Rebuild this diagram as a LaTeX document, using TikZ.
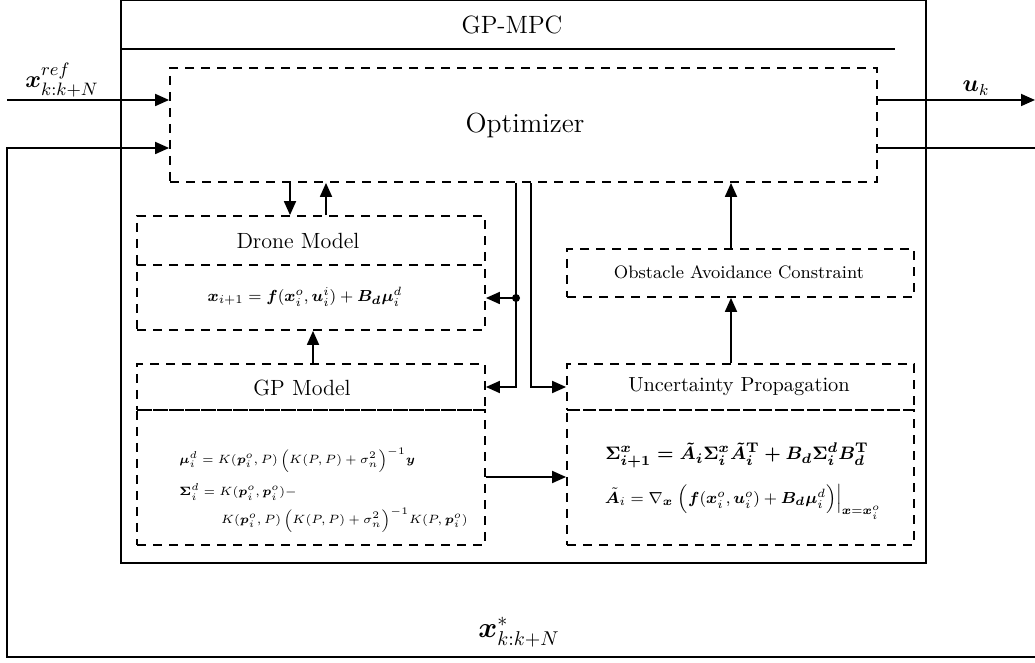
\documentclass[tikz,border=0pt]{standalone}
\usepackage{amsmath,bm}
\usetikzlibrary{arrows.meta,fit,calc}
\tikzset{
  dbox/.style={draw, dash pattern=on 4.5pt off 3.5pt, line width=0.9pt, inner sep=0pt},
  sbox/.style={draw, line width=0.9pt, inner sep=0pt},
  ln/.style={line width=0.9pt},
  arr/.style={line width=0.9pt, -{Triangle[length=7pt,width=6pt]}},
  txt/.style={inner sep=0pt},
}
\newcommand{\fs}[1]{\fontsize{#1}{#1}\selectfont}
\begin{document}
\begin{tikzpicture}[x=0.5pt,y=-0.5pt]
\useasboundingbox (0,0) rectangle (1035,663);
\clip (0,0) rectangle (1035,663);
% outer box
\node[sbox, fit={(121,0) (926,563)}] (mpc) {};
\coordinate (tl) at (895,49);
\draw[ln] (mpc.west |- tl) -- (tl);
\node[txt] (title) at (512,25) {\fs{12.5}GP-MPC};
% optimizer
\node[dbox, fit={(170,68) (877,182)}] (opt) {};
\node[txt] (optt) at (525,125) {\fs{13.8}Optimizer};
% drone model
\node[dbox, fit={(137,216) (485,265)}] (dmT) {};
\node[dbox, fit={(137,265) (485,330)}] (dmB) {};
\node[txt] (dmt) at (298,241) {\fs{11}Drone Model};
\node[txt] (dmf) at (305,297) {\fs{8.1}$\bm{x}_{i+1} = \bm{f}(\bm{x}_i^o, \bm{u}_i^i) + \bm{B}_{\bm d}\bm{\mu}_i^d$};
% GP model
\node[dbox, fit={(137,364) (485,410)}] (gpT) {};
\node[dbox, fit={(137,410) (485,545)}] (gpB) {};
\node[txt] (gpt) at (302,388) {\fs{11}GP Model};
\node[txt, anchor=west] (gpf1) at (179,460) {\fs{6.3}$\bm{\mu}_i^d = K(\bm{p}_i^o, P)\,\Big(K(P,P)+\sigma_n^2\Big)^{-1}\bm{y}$};
\node[txt, anchor=west] (gpf2) at (179,492) {\fs{6.3}$\bm{\Sigma}_i^d = K(\bm{p}_i^o, \bm{p}_i^o) -$};
\node[txt, anchor=east] (gpf3) at (468,520) {\fs{6.3}$K(\bm{p}_i^o, P)\,\Big(K(P,P)+\sigma_n^2\Big)^{-1}K(P,\bm{p}_i^o)$};
% uncertainty propagation
\node[dbox, fit={(567,364) (914,410)}] (upT) {};
\node[dbox, fit={(567,410) (914,545)}] (upB) {};
\node[txt] (upt) at (739,387) {\fs{10.2}Uncertainty Propagation};
\node[txt] (upf1) at (737,455) {\fs{9.5}{\boldmath$\Sigma^x_{i+1} = \tilde{A}_i\Sigma_i^x\tilde{A}_i^{\mathrm{T}} + B_d\Sigma_i^dB_d^{\mathrm{T}}$}};
\node[txt] (upf2) at (743,502) {\fs{8.5}$\tilde{\bm{A}}_i = \nabla_{\bm x}\;\Big(\bm{f}(\bm{x}_i^o, \bm{u}_i^o) + \bm{B}_{\bm d}\bm{\mu}_i^d\Big)\Big|_{\bm{x}=\bm{x}_i^o}$};
% obstacle
\node[dbox, fit={(567,249) (914,297)}] (obs) {};
\node[txt] (obst) at (739,272) {\fs{9}Obstacle Avoidance Constraint};
% arrows optimizer <-> drone model
\coordinate (a1) at (290,0);
\coordinate (a2) at (326,0);
\coordinate (a3) at (313,0);
\coordinate (a4) at (731,0);
\draw[arr] (opt.south -| a1) -- (dmT.north -| a1);
\draw[arr] (dmT.north -| a2) -- (opt.south -| a2);
\draw[arr] (gpT.north -| a3) -- (dmB.south -| a3);
\draw[arr] (upT.north -| a4) -- (obs.south -| a4);
\draw[arr] (obs.north -| a4) -- (opt.south -| a4);
% branch lines
\coordinate (j1) at (516,298);
\coordinate (j2) at (531,0);
\draw[arr] (opt.south -| j1) -- (j1 |- gpT.east) -- (gpT.east);
\draw[arr] (j1) -- (j1 -| dmB.east);
\fill (j1) circle[radius=4];
\draw[arr] (opt.south -| j2) -- (j2 |- upT.west) -- (upT.west);
\coordinate (g1) at (0,477);
\draw[arr] (gpB.east |- g1) -- (upB.west |- g1);
% inputs / outputs
\coordinate (xin) at (7,100);
\coordinate (uout) at (1035,100);
\draw[arr] (xin) -- (xin -| opt.west);
\draw[arr] (uout -| opt.east) -- (uout);
\node[txt] (xref) at (62,80) {\fs{13}$\bm{x}^{ref}_{k:k+N}$};
\node[txt] (uk) at (976,88) {\fs{12}$\bm{u}_k$};
% feedback
\coordinate (fb1) at (1038,148);
\coordinate (fb2) at (1038,657);
\coordinate (fb3) at (7,657);
\coordinate (fb4) at (7,148);
\draw[arr] (opt.east |- fb1) -- (fb1) -- (fb2) -- (fb3) -- (fb4) -- (fb4 -| opt.west);
\node[txt] (xstar) at (519,632) {\fs{14}$\bm{x}^{*}_{k:k+N}$};
\end{tikzpicture}
\end{document}
